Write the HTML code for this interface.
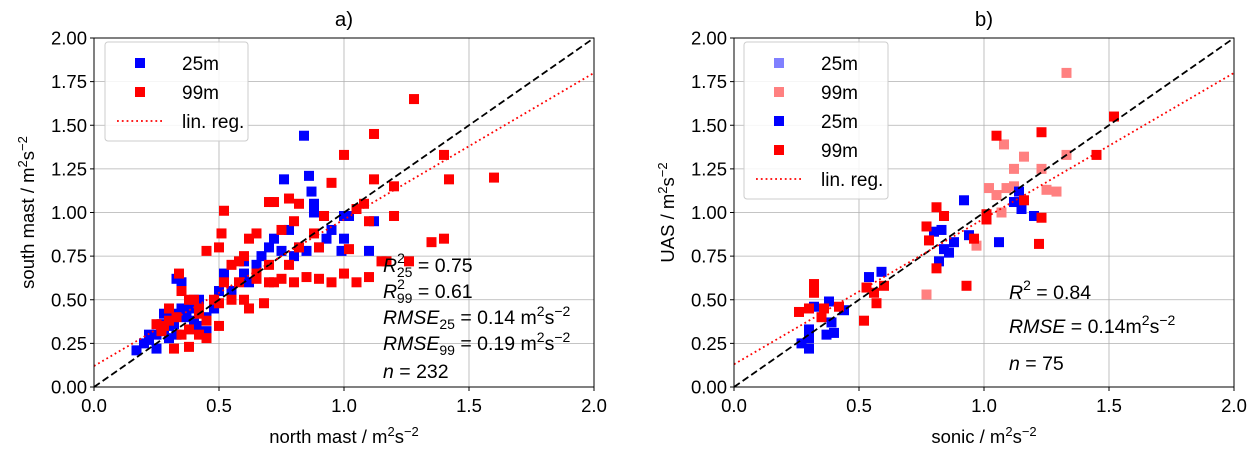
<!DOCTYPE html>
<html><head><meta charset="utf-8"><style>
body{margin:0;background:#fff}
svg{font-family:"Liberation Sans","DejaVu Sans",sans-serif;display:block}
</style></head><body>
<svg id="s" width="1259" height="453"></svg>
<script>
const ticks=[0,0.5,1.0,1.5,2.0];
const yticks=[0,0.25,0.5,0.75,1.0,1.25,1.5,1.75,2.0];
const a25x=[0.17,0.2,0.22,0.25,0.28,0.3,0.32,0.35,0.37,0.4,0.42,0.45,0.3,0.33,0.38,0.41,0.35,0.33,0.25,0.28,0.32,0.45,0.48,0.55,0.6,0.62,0.65,0.7,0.72,0.75,0.78,0.8,0.82,0.85,0.9,0.95,1.0,0.93,0.88,0.84,0.76,0.86,0.87,0.88,1.0,1.02,1.12,0.99,1.1,0.5,0.52,0.6,0.67,0.4,0.22,0.27];
const a25y=[0.21,0.25,0.27,0.3,0.32,0.35,0.42,0.45,0.4,0.38,0.5,0.4,0.28,0.3,0.45,0.35,0.6,0.62,0.22,0.42,0.36,0.32,0.45,0.55,0.65,0.6,0.7,0.8,0.85,0.78,0.9,0.75,0.8,0.78,0.8,0.9,0.98,0.85,1.0,1.44,1.19,1.21,1.12,1.05,0.85,0.98,0.95,0.78,0.78,0.55,0.65,0.72,0.75,0.48,0.3,0.36];
const a99x=[0.3,0.35,0.38,0.32,0.28,0.35,0.34,0.38,0.42,0.45,0.5,0.52,0.55,0.58,0.6,0.62,0.65,0.68,0.7,0.72,0.75,0.78,0.8,0.82,0.85,0.9,0.95,1.0,1.05,1.1,0.5,0.51,0.52,0.6,0.62,0.65,0.7,0.72,0.75,0.8,0.82,0.78,0.88,0.92,0.95,1.0,1.05,1.08,1.12,1.15,1.17,1.12,1.2,1.26,1.28,1.35,1.4,1.42,1.6,1.4,1.02,0.9,0.45,0.4,0.42,0.48,0.55,0.58,0.38,0.42,0.25,0.3,0.45,0.5,0.65,0.7,1.1,1.2,0.27,0.33];
const a99y=[0.38,0.3,0.23,0.22,0.35,0.55,0.65,0.5,0.42,0.38,0.35,0.6,0.5,0.6,0.5,0.45,0.62,0.48,0.7,0.6,0.62,0.7,0.6,0.8,0.63,0.62,0.6,0.65,0.6,0.63,0.8,0.88,1.01,0.75,0.85,0.88,1.06,1.06,0.9,0.95,1.05,1.08,0.88,0.98,1.17,1.33,1.02,1.05,1.19,0.72,0.72,1.45,1.15,0.72,1.65,0.83,1.33,1.19,1.2,0.85,0.79,0.8,0.78,0.5,0.45,0.5,0.7,0.72,0.33,0.3,0.36,0.45,0.28,0.48,0.65,0.6,0.95,0.98,0.32,0.4];
const bL99x=[0.77,0.97,1.02,1.05,1.07,1.08,1.09,1.12,1.12,1.16,1.23,1.25,1.29,1.33,1.33];
const bL99y=[0.53,0.81,1.14,1.10,1.0,1.39,1.14,1.15,1.25,1.32,1.25,1.13,1.12,1.33,1.80];
const b25x=[0.30,0.27,0.30,0.30,0.37,0.40,0.39,0.38,0.44,0.32,0.54,0.59,0.80,0.83,0.88,0.86,0.84,0.82,0.92,0.94,1.06,1.14,1.12,1.15,1.20];
const b25y=[0.22,0.25,0.28,0.33,0.30,0.31,0.37,0.49,0.44,0.46,0.63,0.66,0.89,0.90,0.83,0.77,0.79,0.72,1.07,0.87,0.83,1.12,1.06,1.02,0.98];
const b99x=[0.26,0.32,0.32,0.30,0.36,0.35,0.42,0.52,0.53,0.56,0.57,0.60,0.77,0.78,0.81,0.84,0.81,0.93,0.96,1.01,1.01,1.05,1.16,1.23,1.23,1.22,1.45,1.52];
const b99y=[0.43,0.59,0.54,0.45,0.45,0.40,0.46,0.38,0.57,0.54,0.48,0.58,0.92,0.84,1.03,0.98,0.68,0.58,0.85,0.99,0.96,1.44,1.07,1.46,0.97,0.82,1.33,1.55];
const regA=[0.12,0.84], regB=[0.13,0.835];

const NS="http://www.w3.org/2000/svg", svg=document.getElementById('s');
function el(t,a,p){const e=document.createElementNS(NS,t);for(const k in a)e.setAttribute(k,a[k]);(p||svg).appendChild(e);return e;}
const Y0=387,YS=174.5,XS=250,MS=10;
function panel(x0,key,xlabel,ylabel,title){
  const g=el('g',{});
  
  
  const X=v=>x0+v*XS, Yf=v=>Y0-v*YS;
  ticks.forEach(t=>{const l=el('line',{x1:X(t),x2:X(t),y1:Yf(0),y2:Yf(2),stroke:'#b0b0b0','stroke-width':0.8},g);
    
    const tx=el('text',{x:X(t),y:412,'text-anchor':'middle','font-size':18.5},g);tx.textContent=t.toFixed(1);
    
    el('line',{x1:X(t),x2:X(t),y1:Y0,y2:Y0+4,stroke:'#000'},g);});
  yticks.forEach(t=>{const l=el('line',{x1:X(0),x2:X(2),y1:Yf(t),y2:Yf(t),stroke:'#b0b0b0','stroke-width':0.8},g);
    
    const tx=el('text',{x:X(0)-7,y:Yf(t)+6.5,'text-anchor':'end','font-size':18.5},g);tx.textContent=t.toFixed(2);
    
    el('line',{x1:X(0)-4,x2:X(0),y1:Yf(t),y2:Yf(t),stroke:'#000'},g);});
  function pts(xs,ys,c,name){xs.forEach((v,i)=>{const r=el('rect',{x:X(v)-MS/2,y:Yf(ys[i])-MS/2,width:MS,height:MS,fill:c},g);
    });}
  const reg=key==='a'?regA:regB;
  if(key==='a'){pts(a25x,a25y,'#0000ff','point-25m');pts(a99x,a99y,'#ff0000','point-99m');}
  else{pts(bL99x,bL99y,'#ff8080','point-99m-light');pts(b25x,b25y,'#0000ff','point-25m');pts(b99x,b99y,'#ff0000','point-99m');}
  const d=el('line',{x1:X(0),y1:Yf(0),x2:X(2),y2:Yf(2),stroke:'#000','stroke-width':1.8,'stroke-dasharray':'7,3.5'},g);
  
  const r=el('line',{x1:X(0),y1:Yf(reg[0]),x2:X(2),y2:Yf(reg[0]+2*reg[1]),stroke:'#ff0000','stroke-width':1.8,'stroke-dasharray':'1.8,3'},g);
  
  el('rect',{x:X(0),y:Yf(2),width:500,height:349,fill:'none',stroke:'#000','stroke-width':1},g);
  const t=el('text',{x:X(1),y:26,'text-anchor':'middle','font-size':20.5},g);t.textContent=title;
  
  const xl=el('text',{x:X(1),y:443,'text-anchor':'middle','font-size':18.5},g);xl.innerHTML=xlabel;
  
  const yl=el('text',{x:0,y:0,'text-anchor':'middle','font-size':18.5,transform:`translate(${x0-60},${Yf(1)}) rotate(-90)`},g);yl.innerHTML=ylabel;
  
  return {X,Yf,g};
}
const unit='m<tspan dy="-7" font-size="13">2</tspan><tspan dy="7">s</tspan><tspan dy="-7" font-size="13">−2</tspan>';
panel(94,'a','north mast / '+unit,'south mast / '+unit,'a)');
panel(734,'b','sonic / '+unit,'UAS / '+unit,'b)');

function legend(x,y,w,items,name){
  const g=el('g',{});
  
  el('rect',{x:x,y:y,width:w,height:items.length*29+12,rx:3,fill:'#fff','fill-opacity':0.85,stroke:'#ccc'},g);
  items.forEach((it,i)=>{const cy=y+21+i*29;
    if(it[1]==='line'){el('line',{x1:x+12,x2:x+58,y1:cy,y2:cy,stroke:'#ff0000','stroke-width':1.8,'stroke-dasharray':'1.8,3'},g);}
    else el('rect',{x:x+30,y:cy-5,width:MS,height:MS,fill:it[1]},g);
    const t=el('text',{x:x+77,y:cy+7,'font-size':19},g);t.textContent=it[0];
    });
}
legend(105,42,143,[['25m','#0000ff'],['99m','#ff0000'],['lin. reg.','line']],'legend-a');
legend(744,42,144,[['25m','#8080ff'],['99m','#ff8080'],['25m','#0000ff'],['99m','#ff0000'],['lin. reg.','line']],'legend-b');

function txt(x,y,html,name){const t=el('text',{x:x,y:y,'font-size':19.5});t.innerHTML=html;
  }
txt(383,272,'<tspan font-style="italic">R</tspan><tspan dy="-9" font-size="14">2</tspan><tspan dy="14" dx="-8" font-size="14">25</tspan><tspan dy="-5"> = 0.75</tspan>','r2-25-annotation');
txt(383,298,'<tspan font-style="italic">R</tspan><tspan dy="-9" font-size="14">2</tspan><tspan dy="14" dx="-8" font-size="14">99</tspan><tspan dy="-5"> = 0.61</tspan>','r2-99-annotation');
txt(383,324,'<tspan font-style="italic">RMSE</tspan><tspan dy="5" font-size="14">25</tspan><tspan dy="-5"> = 0.14 m</tspan><tspan dy="-8" font-size="14">2</tspan><tspan dy="8">s</tspan><tspan dy="-8" font-size="14">−2</tspan>','rmse-25-annotation');
txt(383,350,'<tspan font-style="italic">RMSE</tspan><tspan dy="5" font-size="14">99</tspan><tspan dy="-5"> = 0.19 m</tspan><tspan dy="-8" font-size="14">2</tspan><tspan dy="8">s</tspan><tspan dy="-8" font-size="14">−2</tspan>','rmse-99-annotation');
txt(383,378,'<tspan font-style="italic">n</tspan> = 232','n-annotation');
txt(1009,299,'<tspan font-style="italic">R</tspan><tspan dy="-9" font-size="14">2</tspan><tspan dy="9"> = 0.84</tspan>','r2-annotation');
txt(1009,333,'<tspan font-style="italic">RMSE</tspan> = 0.14m<tspan dy="-8" font-size="14">2</tspan><tspan dy="8">s</tspan><tspan dy="-8" font-size="14">−2</tspan>','rmse-annotation');
txt(1009,370,'<tspan font-style="italic">n</tspan> = 75','n-annotation');
</script>
</body></html>
